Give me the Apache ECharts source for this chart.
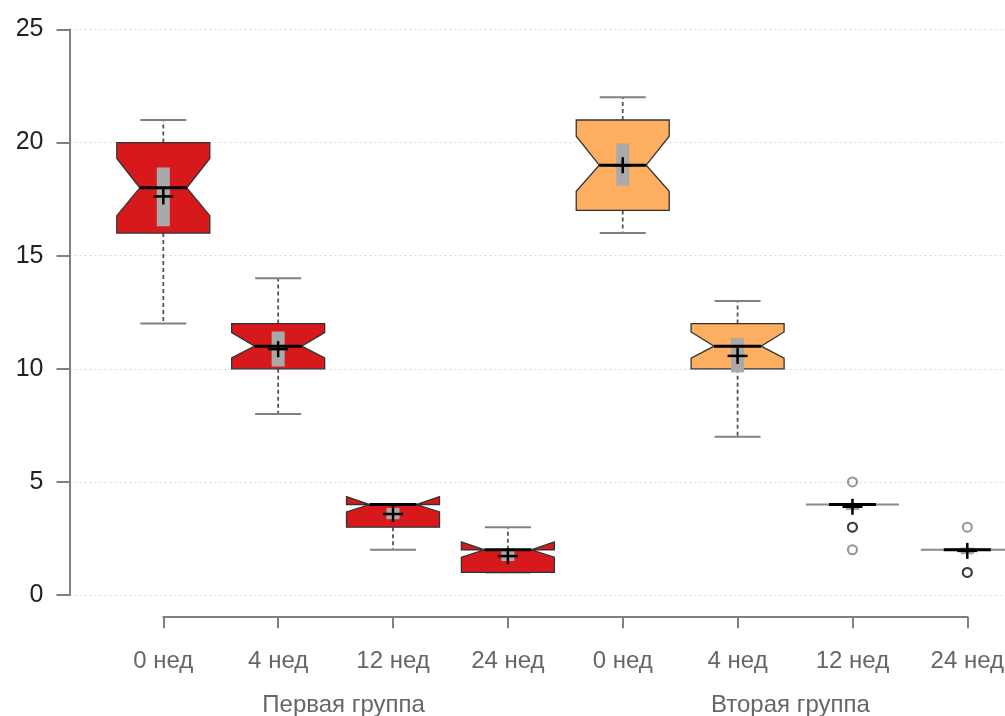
<!DOCTYPE html>
<html>
<head>
<meta charset="utf-8">
<script src="https://cdn.jsdelivr.net/npm/echarts@6/dist/echarts.min.js"></script>
<style>
html,body{margin:0;padding:0;background:#fff;}
#chart{width:1005px;height:716px;}
</style>
</head>
<body>
<div id="chart"></div>
<script>
// ---- data ----
const categories = ['0 нед', '4 нед', '12 нед', '24 нед', '0 нед', '4 нед', '12 нед', '24 нед'];
const groupLabels = ['Первая группа', 'Вторая группа'];
const yTicks = [0, 5, 10, 15, 20, 25];
const whiskerLow  = [12, 8, 2, 1, 16, 7, 4, 2];
const q1          = [16, 10, 3, 1, 17, 10, 4, 2];
const median      = [18, 11, 4, 2, 19, 11, 4, 2];
const q3          = [20, 12, 4, 2, 21, 12, 4, 2];
const whiskerHigh = [21, 14, 4, 3, 22, 13, 4, 2];
const notchLow    = [16.77, 10.48, 3.67, 1.67, 17.85, 10.47, 4, 2];
const notchHigh   = [19.3, 11.6, 4.35, 2.35, 20.28, 11.63, 4, 2];
const meanValue   = [17.62, 10.87, 3.58, 1.72, 19.0, 10.57, 3.9, 1.95];
const meanCiLow   = [16.3, 10.1, 3.35, 1.5, 18.1, 9.84, 3.75, 1.8];
const meanCiHigh  = [18.9, 11.65, 3.85, 1.95, 19.96, 11.36, 4.05, 2.1];
const outliers    = [[], [], [], [], [], [], [5, 3, 3, 3, 2], [3, 1, 1, 1]];

// ---- styles ----
const boxColors = ['#d7191c', '#d7191c', '#d7191c', '#d7191c', '#fdae61', '#fdae61', '#fdae61', '#fdae61'];
const FONT = '"Liberation Sans", Arial, Helvetica, sans-serif';
const BOX_HALF = 46.5, NOTCH_HALF = 23.5, CAP_HALF = 23, CI_HALF = 6.5, PLUS_W = 10, PLUS_H = 8;

const boxData = categories.map((c, i) => [i, whiskerLow[i], q1[i], median[i], q3[i], whiskerHigh[i],
  notchLow[i], notchHigh[i], meanValue[i], meanCiLow[i], meanCiHigh[i]]);
const outlierData = [];
outliers.forEach((arr, i) => arr.forEach(v => outlierData.push([i, v])));

function renderBox(params, api) {
  const i = api.value(0);
  const y = k => api.coord([i, api.value(k)])[1];
  const x = api.coord([i, 0])[0];
  const wl = y(1), b1 = y(2), md = y(3), b3 = y(4), wh = y(5), nl = y(6), nh = y(7), mn = y(8), cl = y(9), ch = y(10);
  const xl = x - BOX_HALF, xr = x + BOX_HALF, xli = x - NOTCH_HALF, xri = x + NOTCH_HALF;
  const ch_ = [];
  const dash = {stroke: '#555', lineWidth: 1.8, lineDash: [4, 3]};
  const cap = {stroke: '#808080', lineWidth: 2};
  if (wh < b3) ch_.push({type: 'line', shape: {x1: x, y1: b3, x2: x, y2: wh}, style: dash});
  if (wl > b1) ch_.push({type: 'line', shape: {x1: x, y1: b1, x2: x, y2: wl}, style: dash});
  ch_.push({type: 'line', shape: {x1: x - CAP_HALF, y1: wh, x2: x + CAP_HALF, y2: wh}, style: cap});
  ch_.push({type: 'line', shape: {x1: x - CAP_HALF, y1: wl, x2: x + CAP_HALF, y2: wl}, style: cap});
  const flat = b1 === b3;
  ch_.push({type: 'polygon', shape: {points: [
    [xl, b1], [xl, nl], [xli, md], [xl, nh], [xl, b3],
    [xr, b3], [xr, nh], [xri, md], [xr, nl], [xr, b1]]},
    style: {fill: boxColors[i], stroke: flat ? '#8a8a8a' : '#333', lineWidth: flat ? 2 : 1.3}});
  ch_.push({type: 'rect', shape: {x: x - CI_HALF, y: ch, width: CI_HALF * 2, height: cl - ch},
    style: {fill: '#a9a9a9'}});
  ch_.push({type: 'line', shape: {x1: xli, y1: md, x2: xri, y2: md}, style: {stroke: '#000', lineWidth: 3}});
  ch_.push({type: 'line', shape: {x1: x - PLUS_W, y1: mn, x2: x + PLUS_W, y2: mn}, style: {stroke: '#000', lineWidth: 2.5}});
  ch_.push({type: 'line', shape: {x1: x, y1: mn - PLUS_H, x2: x, y2: mn + PLUS_H}, style: {stroke: '#000', lineWidth: 2.5}});
  return {type: 'group', children: ch_};
}

const chart = echarts.init(document.getElementById('chart'), null, {renderer: 'canvas'});
chart.setOption({
  animation: false,
  backgroundColor: '#fff',
  textStyle: {fontFamily: FONT},
  grid: [
    {left: 69.5, top: 29.5, width: 935.5, height: 565.5, containLabel: false, outerBoundsMode: 'none'},
    {left: 163.3, top: 29.5, width: 804, height: 565.5, containLabel: false, outerBoundsMode: 'none'}
  ],
  xAxis: [
    {gridIndex: 0, type: 'value', min: 0, max: 1, show: false},
    {gridIndex: 1, type: 'value', position: 'bottom', min: 0, max: categories.length - 1, interval: 1, offset: 21.7,
      axisLine: {show: true, onZero: false, lineStyle: {color: '#808080', width: 2}},
      axisTick: {show: true, length: 11.5, lineStyle: {color: '#808080', width: 2}},
      axisLabel: {show: true, margin: 33, fontSize: 24, color: '#666', fontFamily: FONT,
        formatter: v => categories[Math.round(v)] || ''},
      splitLine: {show: false}},
    {gridIndex: 1, type: 'value', position: 'bottom', min: 0, max: categories.length - 1, offset: 21.7,
      axisLine: {show: false, onZero: false}, axisTick: {show: false}, splitLine: {show: false},
      axisLabel: {show: true, margin: 77, fontSize: 24, color: '#666', fontFamily: FONT,
        customValues: [1.57, 5.46],
        formatter: v => (v < 3.5 ? groupLabels[0] : groupLabels[1])}}
  ],
  yAxis: [
    {gridIndex: 0, type: 'value', min: yTicks[0], max: yTicks[yTicks.length - 1], interval: 5,
      axisLine: {show: true, onZero: false, lineStyle: {color: '#808080', width: 2}},
      axisTick: {show: true, length: 13, lineStyle: {color: '#808080', width: 2}},
      axisLabel: {margin: 26, fontSize: 25, color: '#222', fontFamily: FONT},
      splitLine: {show: true, lineStyle: {color: '#d8d8d8', width: 1, type: [2, 3]}}},
    {gridIndex: 1, type: 'value', min: yTicks[0], max: yTicks[yTicks.length - 1], show: false}
  ],
  series: [
    {type: 'custom', xAxisIndex: 1, yAxisIndex: 1, clip: false, silent: true,
      renderItem: renderBox, data: boxData, z: 2},
    {type: 'scatter', xAxisIndex: 1, yAxisIndex: 1, silent: true, symbol: 'circle', symbolSize: 9,
      itemStyle: {color: 'rgba(0,0,0,0)', borderColor: 'rgba(30,30,30,0.6)', borderWidth: 2},
      data: outlierData, z: 3}
  ]
});
</script>
</body>
</html>
